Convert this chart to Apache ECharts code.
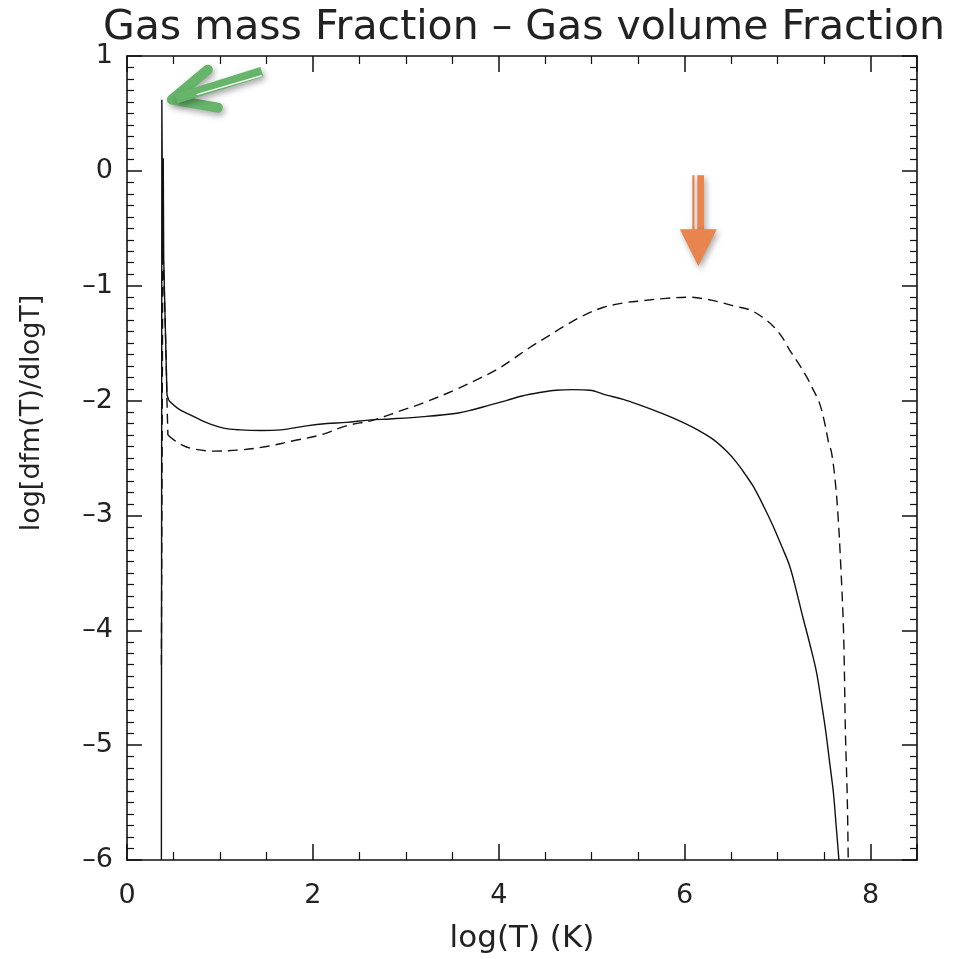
<!DOCTYPE html>
<html>
<head>
<meta charset="utf-8">
<script src="https://cdn.jsdelivr.net/npm/echarts@6/dist/echarts.min.js"></script>
<style>
html, body { margin: 0; padding: 0; background: #fff; }
#main { width: 955px; height: 959px; }
</style>
</head>
<body>
<div id="main"></div>
<script>
// solid line: gas mass fraction  [log(T), log dfm/dlogT]
const massCurve = [
    [0.37, -6.0], [0.375, 0.62], [0.385, -0.78], [0.39, 0.11], [0.395, -0.75],
    [0.40, -0.95], [0.43, -1.95], [0.45, -2.0], [0.55, -2.07], [0.67, -2.12],
    [0.85, -2.19], [1.04, -2.24], [1.22, -2.255], [1.45, -2.26], [1.65, -2.255],
    [1.93, -2.22], [2.15, -2.2], [2.36, -2.19], [2.6, -2.17], [2.83, -2.16],
    [3.19, -2.14], [3.55, -2.11], [3.72, -2.08], [3.9, -2.04], [4.08, -2.0],
    [4.25, -1.96], [4.44, -1.93], [4.62, -1.91], [4.8, -1.905], [4.98, -1.91],
    [5.15, -1.95], [5.34, -1.99], [5.52, -2.04], [5.75, -2.11], [5.98, -2.19],
    [6.15, -2.26], [6.31, -2.34], [6.45, -2.44], [6.56, -2.54], [6.65, -2.64],
    [6.74, -2.75], [6.85, -2.92], [6.95, -3.09], [7.05, -3.28], [7.13, -3.44],
    [7.2, -3.65], [7.27, -3.88], [7.35, -4.13], [7.42, -4.37], [7.47, -4.62],
    [7.52, -4.89], [7.56, -5.15], [7.6, -5.41], [7.63, -5.7], [7.66, -6.0]
];
// dashed line: gas volume fraction
const volumeCurve = [
    [0.37, -4.3], [0.385, -0.7], [0.395, -0.85], [0.42, -1.6], [0.43, -2.0],
    [0.44, -2.3], [0.5, -2.34], [0.6, -2.39], [0.71, -2.42], [0.93, -2.44],
    [1.22, -2.43], [1.5, -2.40], [1.79, -2.35], [2.08, -2.30], [2.36, -2.22],
    [2.65, -2.17], [2.94, -2.09], [3.19, -2.02], [3.55, -1.90], [3.76, -1.82],
    [3.98, -1.73], [4.15, -1.64], [4.33, -1.54], [4.51, -1.45], [4.71, -1.35],
    [4.91, -1.26], [5.12, -1.19], [5.34, -1.15], [5.55, -1.13], [5.80, -1.11],
    [6.05, -1.10], [6.25, -1.12], [6.41, -1.15], [6.55, -1.18], [6.7, -1.21],
    [6.83, -1.27], [6.95, -1.35], [7.05, -1.45], [7.13, -1.56], [7.22, -1.67],
    [7.31, -1.79], [7.38, -1.9], [7.45, -2.02], [7.5, -2.17], [7.55, -2.37],
    [7.58, -2.45], [7.62, -2.7], [7.65, -3.0], [7.68, -3.44], [7.71, -4.02],
    [7.73, -4.89], [7.75, -5.47], [7.76, -6.0]
];
const xTicks = [0, 2, 4, 6, 8];
const yTicks = [1, 0, -1, -2, -3, -4, -5, -6];
const spikeEnd = 0.45; // the narrow spike near log T ~ 0.4 is drawn unsmoothed

const FONT = 'DejaVu Sans';
const INK = '#111';

const chart = echarts.init(document.getElementById('main'));

function fmtNum(v) {
    return v < 0 ? '\u2013' + Math.abs(v) : String(v);
}

function xAx(pos, showLabel) {
    return {
        type: 'value', position: pos, min: 0, max: 8.5, interval: 2,
        axisLine: { show: true, onZero: false, lineStyle: { color: INK, width: 1.6 } },
        axisTick: { show: true, inside: true, length: 16, lineStyle: { color: INK, width: 1.5 } },
        minorTick: { show: true, splitNumber: 4, length: 8, lineStyle: { color: INK, width: 1.2 } },
        splitLine: { show: false },
        axisLabel: {
            show: showLabel, showMaxLabel: false, margin: 22,
            fontFamily: FONT, fontSize: 27, color: '#222',
            formatter: v => xTicks.indexOf(v) >= 0 ? fmtNum(v) : ''
        }
    };
}
function yAx(pos, showLabel) {
    return {
        type: 'value', position: pos, min: -6, max: 1, interval: 1,
        axisLine: { show: true, onZero: false, lineStyle: { color: INK, width: 1.6 } },
        axisTick: { show: true, inside: true, length: 15, lineStyle: { color: INK, width: 1.5 } },
        minorTick: { show: true, splitNumber: 10, length: 7, lineStyle: { color: INK, width: 1.2 } },
        splitLine: { show: false },
        axisLabel: {
            show: showLabel, margin: 14,
            fontFamily: FONT, fontSize: 27, color: '#222',
            formatter: v => yTicks.indexOf(v) >= 0 ? fmtNum(v) : ''
        }
    };
}

const bottomX = xAx('bottom', true);
bottomX.name = 'log(T) (K)';
bottomX.nameLocation = 'middle';
bottomX.nameGap = 63;
bottomX.nameTextStyle = { fontFamily: FONT, fontSize: 31, color: '#222' };

function lineSeries(data, dashed, smooth) {
    return {
        type: 'line', xAxisIndex: 0, yAxisIndex: 0,
        data: data, showSymbol: false, smooth: smooth,
        lineStyle: { color: INK, width: 1.4, type: dashed ? [10, 6] : 'solid' }
    };
}

chart.setOption({
    backgroundColor: '#fff',
    animation: false,
    title: {
        text: 'Gas mass Fraction \u2013 Gas volume Fraction',
        left: 519, top: 3, textAlign: 'center',
        textStyle: { fontFamily: FONT, fontSize: 41, fontWeight: 'normal', color: '#222' }
    },
    grid: { left: 127, right: 38, top: 56, bottom: 98 },
    xAxis: [bottomX, xAx('top', false)],
    yAxis: [yAx('left', true), yAx('right', false)],
    series: [
        lineSeries(massCurve.filter(p => p[0] <= spikeEnd), false, false),
        lineSeries(massCurve.filter(p => p[0] >= spikeEnd), false, 0.35),
        lineSeries(volumeCurve.filter(p => p[0] <= spikeEnd), true, false),
        lineSeries(volumeCurve.filter(p => p[0] >= 0.44), true, 0.35)
    ]
});

// annotations: y label and the two arrows, anchored on the curve peaks
function peakOf(arr) {
    return arr.reduce((a, b) => (b[1] > a[1] ? b : a));
}
const massPeak = chart.convertToPixel({ gridIndex: 0 }, peakOf(massCurve));
const volPeak = chart.convertToPixel({ gridIndex: 0 }, peakOf(volumeCurve.filter(p => p[0] > 1)));

const gx = massPeak[0] + 10, gy = massPeak[1];
const ox = volPeak[0] + 9, oy = volPeak[1] - 31;
const green = '#67b46b', orange = '#e8854f';
const shadow = { shadowBlur: 6, shadowOffsetX: 2, shadowOffsetY: 3, shadowColor: 'rgba(0,0,0,0.35)' };

chart.setOption({
    graphic: [
        {
            type: 'text', x: 32, y: 413, rotation: Math.PI / 2,
            style: {
                text: 'log[dfm(T)/dlogT]', fontFamily: FONT, fontSize: 27, fill: '#222',
                align: 'center', verticalAlign: 'middle'
            }
        },
        {
            type: 'polyline',
            shape: { points: [[gx + 36, gy - 30], [gx, gy], [gx + 46, gy + 8]] },
            style: Object.assign({ stroke: green, lineWidth: 10, lineCap: 'round', lineJoin: 'round', fill: null }, shadow)
        },
        {
            type: 'line',
            shape: { x1: gx + 4, y1: gy - 1, x2: gx + 90, y2: gy - 28 },
            style: Object.assign({ stroke: green, lineWidth: 10, lineCap: 'butt' }, shadow)
        },
        {
            type: 'line',
            shape: { x1: gx + 25, y1: gy - 5, x2: gx + 90, y2: gy - 24 },
            style: { stroke: '#fff', lineWidth: 1.5 }
        },
        {
            type: 'rect',
            shape: { x: ox - 6, y: oy - 91, width: 2.2, height: 56 },
            style: Object.assign({ fill: orange }, shadow)
        },
        {
            type: 'rect',
            shape: { x: ox - 1, y: oy - 91, width: 6.7, height: 56 },
            style: Object.assign({ fill: orange }, shadow)
        },
        {
            type: 'polygon',
            shape: { points: [[ox - 18.5, oy - 37], [ox + 18.5, oy - 37], [ox, oy]] },
            style: Object.assign({ fill: orange }, shadow)
        }
    ]
});
</script>
</body>
</html>
